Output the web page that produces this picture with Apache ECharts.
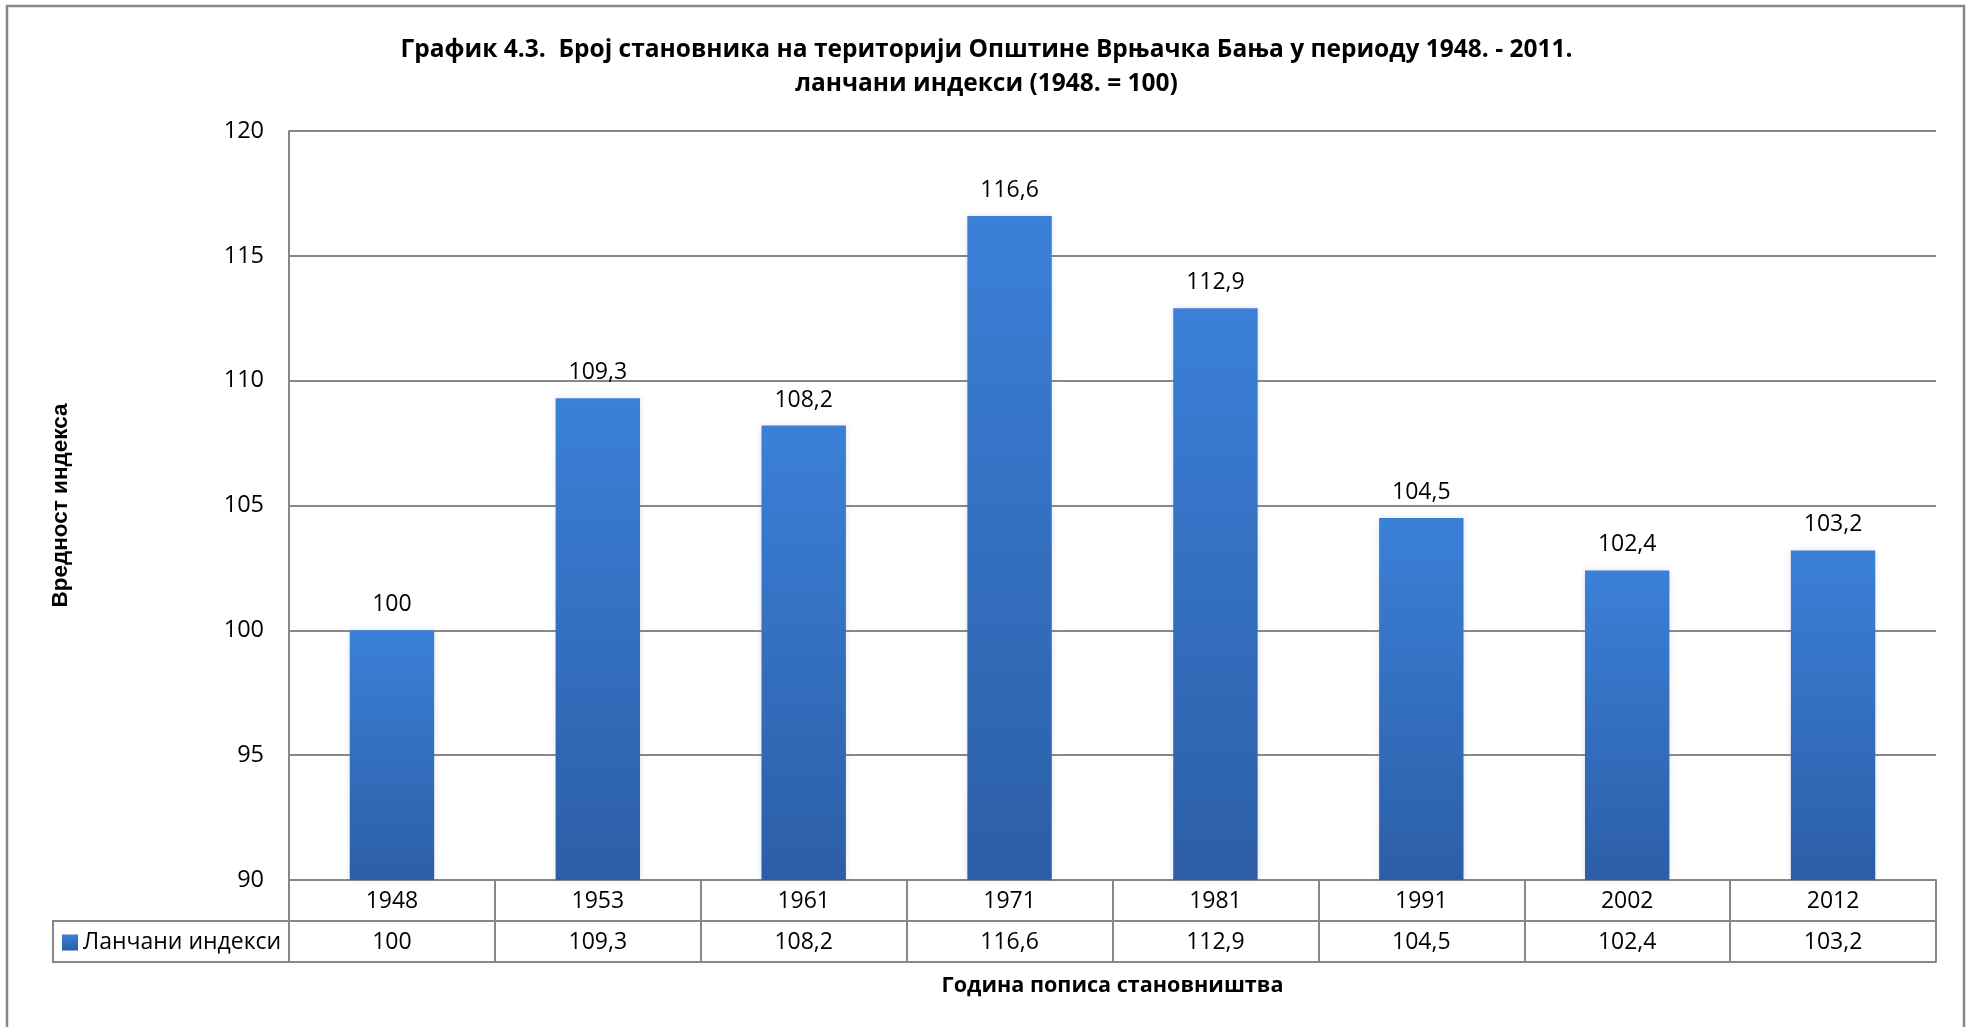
<!DOCTYPE html>
<html>
<head>
<meta charset="utf-8">
<script src="https://cdn.jsdelivr.net/npm/echarts@6/dist/echarts.min.js"></script>
<style>
html,body{margin:0;padding:0;background:#fff;}
#c{width:1973px;height:1027px;}
</style>
</head>
<body>
<div id="c"></div>
<script>
const titleText = 'График 4.3.  Број становника на територији Општине Врњачка Бања у периоду 1948. - 2011.\nланчани индекси (1948. = 100)';
const years = ['1948','1953','1961','1971','1981','1991','2002','2012'];
const values = [100, 109.3, 108.2, 116.6, 112.9, 104.5, 102.4, 103.2];
const seriesName = 'Ланчани индекси';
const yTitle = 'Вредност индекса';
const xTitle = 'Година пописа становништва';
const yMin = 90, yMax = 120, yStep = 5;

const fmt = v => String(v).replace('.', ',');
const gray = '#878787';
const font = '"Open Sans", sans-serif';

const chart = echarts.init(document.getElementById('c'));
chart.setOption({
  animation: false,
  backgroundColor: '#fff',
  title: {
    text: titleText,
    left: 'center',
    top: 33,
    padding: 0,
    textStyle: {fontFamily: font, fontWeight: 'bold', fontSize: 24.5, lineHeight: 34, color: '#000'}
  },
  legend: {
    data: [seriesName],
    left: 62, top: 931, padding: 0,
    icon: 'rect', itemWidth: 16, itemHeight: 16,
    textStyle: {fontFamily: font, fontSize: 23, color: '#000'}
  },
  grid: {left: 289, right: 37, top: 131, bottom: 147, containLabel: false},
  xAxis: [
    {
      type: 'category', data: years, position: 'bottom',
      axisLine: {show: true, lineStyle: {color: gray, width: 2}},
      axisTick: {show: true, interval: 0, length: 82, lineStyle: {color: gray, width: 2}},
      axisLabel: {interval: 0, margin: 10, fontFamily: font, fontSize: 23, color: '#000'}
    },
    {
      type: 'category', data: values.map(fmt), position: 'bottom', offset: 41,
      axisLine: {show: true, lineStyle: {color: gray, width: 2}},
      axisTick: {show: false},
      axisLabel: {interval: 0, margin: 10, fontFamily: font, fontSize: 23, color: '#000'}
    },
    {
      type: 'category', data: years, position: 'bottom', offset: 82,
      axisLine: {show: true, lineStyle: {color: gray, width: 2}},
      axisTick: {show: false},
      axisLabel: {show: false},
      name: xTitle, nameLocation: 'middle', nameGap: 13,
      nameTextStyle: {fontFamily: font, fontWeight: 'bold', fontSize: 21.6, color: '#000'}
    }
  ],
  yAxis: {
    type: 'value', min: yMin, max: yMax, interval: yStep,
    axisLine: {show: true, lineStyle: {color: gray, width: 2}},
    axisTick: {show: false},
    splitLine: {show: true, lineStyle: {color: gray, width: 2}},
    axisLabel: {margin: 25, fontFamily: font, fontSize: 23.5, color: '#000'},
    name: yTitle, nameLocation: 'middle', nameGap: 217, nameRotate: 90,
    nameTextStyle: {fontFamily: '"Liberation Sans", Arial, sans-serif', fontWeight: 'bold', fontSize: 22.5, color: '#000'}
  },
  series: [{
    name: seriesName,
    type: 'bar',
    data: values,
    barWidth: '41%',
    itemStyle: {
      color: new echarts.graphic.LinearGradient(0, 0, 0, 1, [
        {offset: 0, color: '#3b80d8'},
        {offset: 1, color: '#2c5ea6'}
      ]),
      shadowColor: 'rgba(120,140,170,0.25)', shadowBlur: 6
    },
    label: {
      show: true, position: 'top', distance: 14,
      fontFamily: font, fontSize: 23, color: '#000',
      formatter: p => fmt(p.value)
    }
  }],
  graphic: [
    {type: 'rect', silent: true, z: 100,
     shape: {x: 7, y: 6, width: 1957, height: 1040},
     style: {fill: 'none', stroke: gray, lineWidth: 2.5}},
    {type: 'polyline', silent: true, z: 100,
     shape: {points: [[289, 921], [53, 921], [53, 962], [289, 962]]},
     style: {fill: 'none', stroke: gray, lineWidth: 2}}
  ]
});
</script>
</body>
</html>
